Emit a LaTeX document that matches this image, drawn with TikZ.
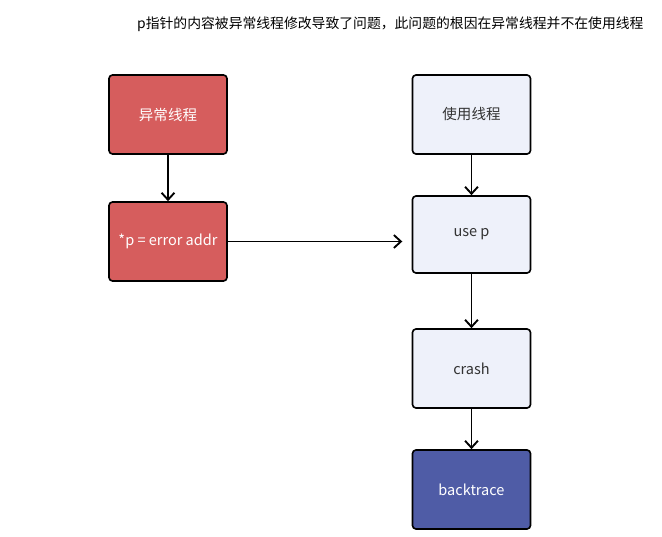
\documentclass[tikz,border=0pt]{standalone}
\usepackage{fontspec}
\setmainfont{Noto Sans CJK SC}
\usepackage{tikz}
\usetikzlibrary{arrows.meta}
\definecolor{errred}{HTML}{D65D5D}
\definecolor{uselight}{HTML}{EEF1FA}
\definecolor{traceblue}{HTML}{4F5CA6}

\begin{document}
\begin{tikzpicture}[x=0.03cm,y=-0.03cm,
  every node/.style={font=\fontsize{12.4}{15}\selectfont},
  box/.style={draw=black,line width=1.4pt,rounded corners=3pt,minimum width=3.54cm,minimum height=2.37cm,inner sep=0pt},
  redbox/.style={box,fill=errred,text=white},
  lightbox/.style={box,fill=uselight,text=black!80},
  bluebox/.style={box,fill=traceblue,text=white},
  arr/.style={line width=1.6pt,-{Straight Barb[length=6pt,width=11pt]}}]
\useasboundingbox (0,0) rectangle (662,537);
\node[anchor=west,inner sep=0pt,font=\fontsize{11.8}{14}\selectfont] (title) at (137,24) {p指针的内容被异常线程修改导致了问题，此问题的根因在异常线程并不在使用线程};
% left column
\node[redbox] (bad) at (168,114.5) {异常线程};
\node[redbox] (write) at (168,241.5) {*p = error addr};
% right column
\node[lightbox] (user) at (471.5,114.5) {使用线程};
\node[lightbox,minimum height=2.31cm] (use) at (471.5,234.5) {use p};
\node[lightbox] (crash) at (471.5,368.5) {crash};
\node[bluebox] (trace) at (471.5,489.5) {backtrace};
\draw[arr] (bad) -- (write);
\draw[arr,shorten >=8pt] (write.east) -- (write.east -| use.west);
\draw[arr] (user) -- (use);
\draw[arr] (use) -- (crash);
\draw[arr] (crash) -- (trace);
\end{tikzpicture}
\end{document}
